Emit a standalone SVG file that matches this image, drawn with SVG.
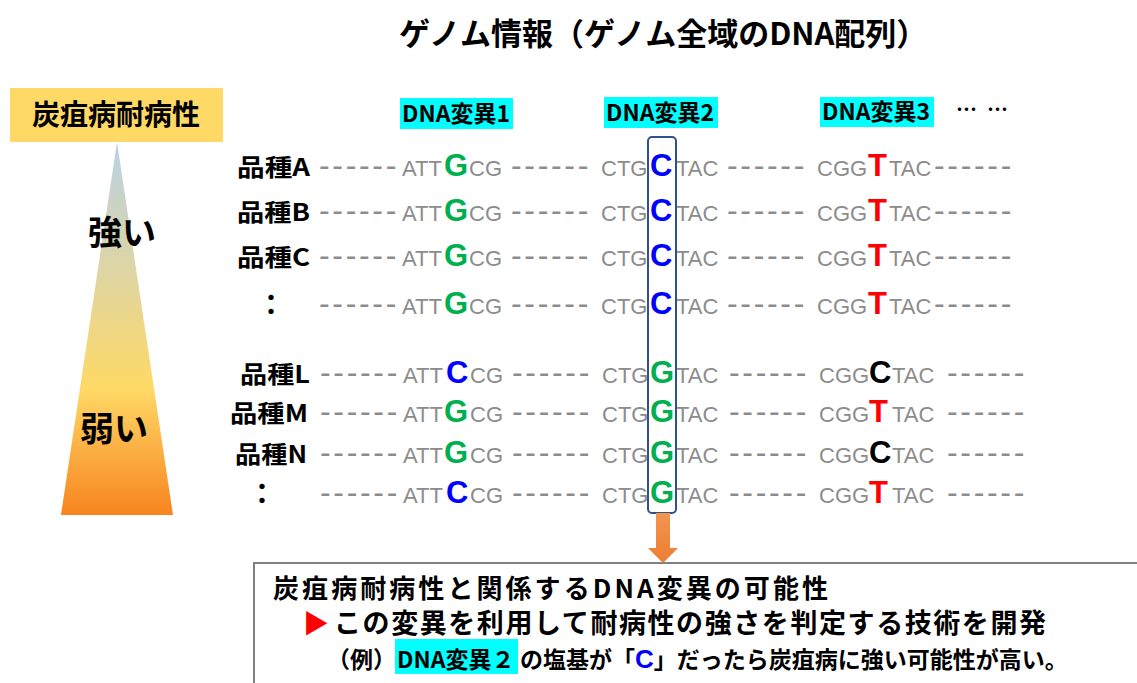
<svg xmlns="http://www.w3.org/2000/svg" width="1137" height="683" viewBox="0 0 1137 683">
<defs>
<linearGradient id="tri" x1="0" y1="142" x2="0" y2="515" gradientUnits="userSpaceOnUse">
<stop offset="0" stop-color="#B9D1E6"/>
<stop offset="0.66" stop-color="#FFD966"/>
<stop offset="1" stop-color="#F7841F"/>
</linearGradient>
<linearGradient id="arr" x1="0" y1="0" x2="0" y2="1">
<stop offset="0" stop-color="#F29552"/>
<stop offset="1" stop-color="#ED7D31"/>
</linearGradient>
<style>
.jp{font-family:"Noto Sans CJK JP","Noto Sans CJK SC",sans-serif;font-weight:bold;fill:#000}
.g{font-family:"Liberation Sans",Arial,sans-serif;font-size:22px;fill:#8C8C8C}
.d{font-family:"Liberation Sans",Arial,sans-serif;font-size:32px;fill:#8C8C8C;letter-spacing:2.67px}
.b{font-family:"Liberation Sans",Arial,sans-serif;font-size:31px;font-weight:bold}
.grn{fill:#00B050}.blu{fill:#0000FF}.red{fill:#FF0000}.blk{fill:#000}
.lbl{font-size:24px}
.tag{fill:#00FFFF}
.tagt{font-size:23px}
</style>
</defs>
<rect width="1137" height="683" fill="#fff"/>

<g id="title">
<text class="jp" x="399" y="45" font-size="31">ゲノム情報（ゲノム全域のDNA配列）</text>
</g>

<g id="resistance-scale">
<rect x="10" y="88" width="213" height="54" fill="#FFD966"/>
<text class="jp" x="116" y="125" font-size="28" text-anchor="middle">炭疽病耐病性</text>
<polygon points="117,142 173,515 61,515" fill="url(#tri)"/>
<text class="jp" x="122" y="245" font-size="34" text-anchor="middle">強い</text>
<text class="jp" x="114" y="441" font-size="34" text-anchor="middle">弱い</text>
</g>

<g id="variant-labels">
<rect class="tag" x="400" y="98" width="113" height="31"/>
<text class="jp tagt" x="402" y="122">DNA変異1</text>
<rect class="tag" x="604" y="97" width="114" height="31"/>
<text class="jp tagt" x="606" y="121">DNA変異2</text>
<rect class="tag" x="820" y="97" width="114" height="30"/>
<text class="jp tagt" x="822" y="120">DNA変異3</text>
<text class="jp" x="956" y="117" font-size="21">…</text>
<text class="jp" x="987" y="117" font-size="21">…</text>
</g>

<g id="row-A">
<text class="jp lbl" x="237" y="176" textLength="73" lengthAdjust="spacingAndGlyphs">品種A</text>
<text class="d" x="319" y="176">------</text><text class="g" x="402" y="176">ATT</text><text class="b grn" x="444" y="176">G</text><text class="g" x="469" y="176">CG</text>
<text class="d" x="511" y="176">------</text><text class="g" x="601" y="176">CTG</text><text class="b blu" x="650" y="176">C</text><text class="g" x="676" y="176">TAC</text>
<text class="d" x="727" y="176">------</text><text class="g" x="817" y="176">CGG</text><text class="b red" x="868" y="176">T</text><text class="g" x="889" y="176">TAC</text><text class="d" x="934" y="176">------</text>
</g>
<g id="row-B">
<text class="jp lbl" x="237" y="221" textLength="73" lengthAdjust="spacingAndGlyphs">品種B</text>
<text class="d" x="319" y="221">------</text><text class="g" x="402" y="221">ATT</text><text class="b grn" x="444" y="221">G</text><text class="g" x="469" y="221">CG</text>
<text class="d" x="511" y="221">------</text><text class="g" x="601" y="221">CTG</text><text class="b blu" x="650" y="221">C</text><text class="g" x="676" y="221">TAC</text>
<text class="d" x="727" y="221">------</text><text class="g" x="817" y="221">CGG</text><text class="b red" x="868" y="221">T</text><text class="g" x="889" y="221">TAC</text><text class="d" x="934" y="221">------</text>
</g>
<g id="row-C">
<text class="jp lbl" x="237" y="266" textLength="73" lengthAdjust="spacingAndGlyphs">品種C</text>
<text class="d" x="319" y="266">------</text><text class="g" x="402" y="266">ATT</text><text class="b grn" x="444" y="266">G</text><text class="g" x="469" y="266">CG</text>
<text class="d" x="511" y="266">------</text><text class="g" x="601" y="266">CTG</text><text class="b blu" x="650" y="266">C</text><text class="g" x="676" y="266">TAC</text>
<text class="d" x="727" y="266">------</text><text class="g" x="817" y="266">CGG</text><text class="b red" x="868" y="266">T</text><text class="g" x="889" y="266">TAC</text><text class="d" x="934" y="266">------</text>
</g>
<g id="row-etc1">
<text class="jp" x="271" y="315" font-size="28" text-anchor="middle">：</text>
<text class="d" x="319" y="314">------</text><text class="g" x="402" y="314">ATT</text><text class="b grn" x="444" y="314">G</text><text class="g" x="469" y="314">CG</text>
<text class="d" x="511" y="314">------</text><text class="g" x="601" y="314">CTG</text><text class="b blu" x="650" y="314">C</text><text class="g" x="676" y="314">TAC</text>
<text class="d" x="727" y="314">------</text><text class="g" x="817" y="314">CGG</text><text class="b red" x="868" y="314">T</text><text class="g" x="889" y="314">TAC</text><text class="d" x="934" y="314">------</text>
</g>
<g id="row-L">
<text class="jp lbl" x="240" y="383" textLength="70" lengthAdjust="spacingAndGlyphs">品種L</text>
<text class="d" x="320" y="383">------</text><text class="g" x="403" y="383">ATT</text><text class="b blu" x="446" y="383">C</text><text class="g" x="470" y="383">CG</text>
<text class="d" x="512" y="383">------</text><text class="g" x="602" y="383">CTG</text><text class="b grn" x="650" y="383">G</text><text class="g" x="676" y="383">TAC</text>
<text class="d" x="729" y="383">------</text><text class="g" x="819" y="383">CGG</text><text class="b blk" x="869" y="383">C</text><text class="g" x="892" y="383">TAC</text><text class="d" x="947" y="383">------</text>
</g>
<g id="row-M">
<text class="jp lbl" x="230" y="422" textLength="78" lengthAdjust="spacingAndGlyphs">品種M</text>
<text class="d" x="320" y="422">------</text><text class="g" x="403" y="422">ATT</text><text class="b grn" x="444" y="422">G</text><text class="g" x="470" y="422">CG</text>
<text class="d" x="512" y="422">------</text><text class="g" x="602" y="422">CTG</text><text class="b grn" x="650" y="422">G</text><text class="g" x="676" y="422">TAC</text>
<text class="d" x="729" y="422">------</text><text class="g" x="819" y="422">CGG</text><text class="b red" x="869" y="422">T</text><text class="g" x="892" y="422">TAC</text><text class="d" x="947" y="422">------</text>
</g>
<g id="row-N">
<text class="jp lbl" x="235" y="463" textLength="72" lengthAdjust="spacingAndGlyphs">品種N</text>
<text class="d" x="320" y="463">------</text><text class="g" x="403" y="463">ATT</text><text class="b grn" x="444" y="463">G</text><text class="g" x="470" y="463">CG</text>
<text class="d" x="512" y="463">------</text><text class="g" x="602" y="463">CTG</text><text class="b grn" x="650" y="463">G</text><text class="g" x="676" y="463">TAC</text>
<text class="d" x="729" y="463">------</text><text class="g" x="819" y="463">CGG</text><text class="b blk" x="869" y="463">C</text><text class="g" x="892" y="463">TAC</text><text class="d" x="947" y="463">------</text>
</g>
<g id="row-etc2">
<text class="jp" x="262" y="504" font-size="28" text-anchor="middle">：</text>
<text class="d" x="320" y="503">------</text><text class="g" x="403" y="503">ATT</text><text class="b blu" x="446" y="503">C</text><text class="g" x="470" y="503">CG</text>
<text class="d" x="512" y="503">------</text><text class="g" x="602" y="503">CTG</text><text class="b grn" x="650" y="503">G</text><text class="g" x="676" y="503">TAC</text>
<text class="d" x="729" y="503">------</text><text class="g" x="819" y="503">CGG</text><text class="b red" x="869" y="503">T</text><text class="g" x="892" y="503">TAC</text><text class="d" x="947" y="503">------</text>
</g>

<g id="highlight">
<rect x="648" y="137" width="28" height="376" rx="4" fill="none" stroke="#2F528F" stroke-width="2"/>
</g>

<g id="result-box">
<rect x="254" y="563" width="900" height="140" fill="#fff" stroke="#808080" stroke-width="2"/>
<text class="jp" x="273" y="598" font-size="26" textLength="555" lengthAdjust="spacing">炭疽病耐病性と関係するDNA変異の可能性</text>
<text class="jp red" x="303" y="633" font-size="26">▶</text>
<text class="jp" x="334" y="633" font-size="27" textLength="712" lengthAdjust="spacing">この変異を利用して耐病性の強さを判定する技術を開発</text>
<text class="jp" x="327" y="668" font-size="23">（例）</text>
<rect class="tag" x="395" y="639" width="123" height="35"/>
<text class="jp" x="397" y="668" font-size="23">DNA変異２</text>
<text class="jp" x="520" y="668" font-size="23">の塩基が「<tspan class="blu" font-family="Liberation Sans, Arial, sans-serif" font-size="26">C</tspan>」だったら炭疽病に強い可能性が高い。</text>
</g>

<g id="connectors">
<path d="M656,513 H670 V548 H678 L663,563 L648,548 H656 Z" fill="url(#arr)"/>
</g>
</svg>
